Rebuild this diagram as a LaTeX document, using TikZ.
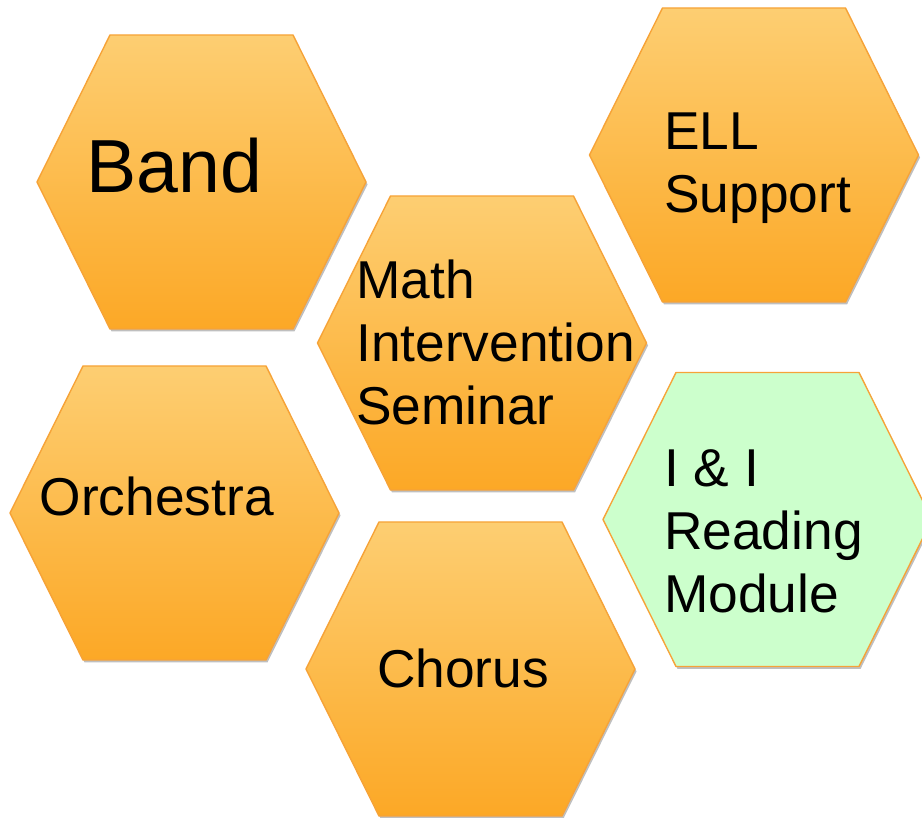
\documentclass[tikz,border=0pt]{standalone}
\usepackage{fontspec}
\setmainfont{Liberation Sans}
\usetikzlibrary{shadows,positioning}
\definecolor{celltop}{RGB}{253,206,114}
\definecolor{cellbot}{RGB}{252,168,38}
\definecolor{cellline}{RGB}{246,163,56}
\definecolor{cellgreen}{RGB}{204,255,204}

\begin{document}
\begin{tikzpicture}[x=1bp, y=1bp,
  every node/.style={inner sep=0pt, anchor=base west, align=left, font=\fontsize{53.5}{63.6}\selectfont},
  cell/.style={draw=cellline, line width=1.4bp, line join=round, top color=celltop, bottom color=cellbot,
    drop shadow={shadow xshift=1.5bp, shadow yshift=-2.5bp, opacity=0.25, fill=black}},
  greencell/.style={cell, fill=cellgreen, top color=cellgreen, bottom color=cellgreen}]
   \useasboundingbox (0,0) rectangle (922,818);

   \coordinate (cband) at (201.5,636);
   \coordinate (cmath) at (482,475);
   \coordinate (cell) at (754,663);
   \coordinate (corch) at (174.5,305);
   \coordinate (cii) at (767.5,298.5);
   \coordinate (cchorus) at (470.5,149);

   \foreach \c in {cband,cmath,cell,corch,cchorus}
     \draw[cell] (\c) ++(-164.5,0) -- ++(73,147) -- ++(183,0) -- ++(73,-147) -- ++(-73,-147) -- ++(-183,0) -- cycle;
   \draw[greencell] (cii) ++(-164.5,0) -- ++(73,147) -- ++(183,0) -- ++(73,-147) -- ++(-73,-147) -- ++(-183,0) -- cycle;

   % base anchor of a multi-line node sits on its last line
   \node[font=\fontsize{75.5}{90}\selectfont] (band) at (86.5,625) {Band};
   \node[] (math) at (356,393) {Math\\Intervention\\Seminar};
   \node[] (ell) at (664,605) {ELL\\Support};
   \node[] (orch) at (39.5,302) {Orchestra};
   \node[] (ii) at (664,205) {I \& I\\Reading\\Module};
   \node[] (chorus) at (377,130) {Chorus};
\end{tikzpicture}
\end{document}
